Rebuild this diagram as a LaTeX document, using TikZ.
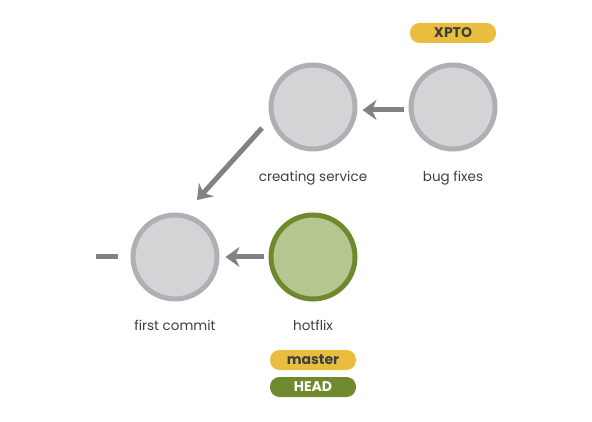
\documentclass[tikz,border=0pt]{standalone}
\usepackage{fontspec}
\setmainfont{Poppins}
\usetikzlibrary{arrows.meta,calc}
\definecolor{cfill}{HTML}{D3D4D6}
\definecolor{cline}{HTML}{AEB0B3}
\definecolor{gfill}{HTML}{B5C68F}
\definecolor{gline}{HTML}{6F8A2E}
\definecolor{agray}{HTML}{808285}
\definecolor{tyel}{HTML}{E9BE3E}
\definecolor{txt}{HTML}{3B3F45}
\begin{document}
\begin{tikzpicture}[x=1pt,y=-1pt,
commit/.style={circle,draw=cline,fill=cfill,line width=5pt,minimum size=84pt,inner sep=0pt},
head/.style={commit,draw=gline,fill=gfill},
lbl/.style={font=\fontsize{13.5}{15}\selectfont,text=txt},
tag/.style={rounded corners=9.5pt,fill=tyel,minimum width=86pt,minimum height=20pt,inner sep=0pt,font=\fontsize{14}{15}\selectfont\bfseries,text=txt},
link/.style={-{Stealth[length=14pt,width=20pt,inset=4.5pt]},line width=5pt,draw=agray}]
\useasboundingbox (0,0) rectangle (592,422);
\node[commit] (first) at (175,257) {};
\node[head] (hotflix) at (313,257) {};
\node[commit] (service) at (313,107) {};
\node[commit] (bugs) at (453,107) {};
\node[lbl] at (175,325) {first commit};
\node[lbl] at (313,325) {hotflix};
\node[lbl] at (313,178) {creating service};
\node[lbl] at (453,178) {bug fixes};
\node[tag] (xpto) at (453,33) {XPTO};
\node[tag] (master) at (313,360) {master};
\node[tag,fill=gline,text=white] (headtag) at (313,387) {HEAD};
\coordinate (root) at (96,257);
\draw[link] ($(bugs.west)+(-5,3)$) -- ($(service.east)+(5,3)$);
\draw[link] ($(hotflix.west)+(-5,0)$) -- ($(first.east)+(6,0)$);
\draw[link] ($(service)+(-51,21)$) -- ($(first)+(22,-57)$);
\draw[agray,line width=5pt] (root) -- ++(22,0);
\end{tikzpicture}
\end{document}
